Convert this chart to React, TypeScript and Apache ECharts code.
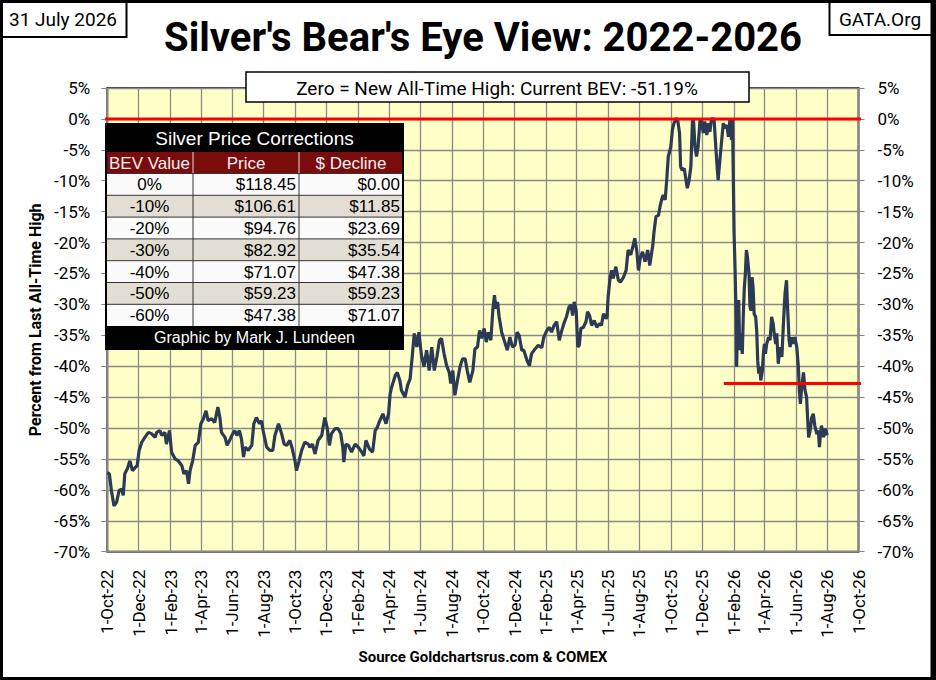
import { useEffect, useRef } from "react";
import * as echarts from "echarts";

const START = Date.UTC(2022, 9, 1);
const DAY = 86400000;

// days after 1-Oct-22 of each reading, and the Bear's Eye View value (%)
const days = [
  0, 4, 8, 13, 18, 23, 28, 31, 34, 39, 44, 49, 54, 58, 62, 67, 73, 80, 86, 93,
  96, 102, 106, 112, 115, 121, 125, 132, 138, 145, 149, 154, 158, 161, 166, 171, 177, 182, 187, 192,
  196, 203, 209, 215, 219, 222, 229, 233, 239, 244, 248, 252, 257, 261, 265, 268, 274, 281, 285, 290,
  296, 300, 303, 310, 316, 322, 326, 333, 339, 344, 349, 355, 359, 365, 368, 373, 378, 384, 391, 394,
  399, 404, 410, 417, 423, 428, 432, 436, 443, 449, 454, 458, 460, 464, 469, 475, 482, 488, 495, 499,
  503, 510, 516, 521, 525, 530, 536, 542, 547, 550, 553, 556, 560, 564, 569, 572, 579, 584, 589, 593,
  597, 602, 606, 611, 616, 621, 626, 631, 636, 641, 646, 650, 655, 660, 665, 668, 672, 676, 681, 686,
  691, 696, 700, 705, 711, 715, 720, 724, 728, 733, 737, 741, 746, 750, 753, 756, 759, 762, 767, 773,
  778, 783, 788, 793, 797, 801, 806, 810, 816, 821, 825, 832, 838, 845, 849, 855, 860, 864, 869, 874,
  879, 884, 888, 893, 898, 902, 905, 908, 912, 915, 918, 921, 926, 931, 934, 938, 942, 947, 952, 957,
  961, 965, 970, 972, 974, 978, 981, 984, 989, 994, 998, 1004, 1009, 1013, 1018, 1022, 1026, 1030, 1033, 1037,
  1041, 1046, 1051, 1055, 1061, 1063, 1067, 1072, 1075, 1078, 1081, 1085, 1088, 1091, 1096, 1099, 1102, 1106, 1109, 1113,
  1115, 1118, 1122, 1125, 1128, 1131, 1135, 1138, 1140, 1143, 1146, 1149, 1153, 1156, 1159, 1162, 1166, 1169, 1172, 1175,
  1180, 1183, 1186, 1188, 1192, 1195, 1198, 1201, 1205, 1208, 1211, 1214, 1216, 1217, 1219, 1221, 1223, 1224, 1226, 1228,
  1230, 1232, 1235, 1237, 1239, 1241, 1243, 1245, 1248, 1250, 1252, 1254, 1256, 1258, 1261, 1263, 1265, 1267, 1269, 1271,
  1274, 1276, 1278, 1280, 1282, 1286, 1289, 1292, 1295, 1297, 1300, 1302, 1305, 1308, 1312, 1315, 1318, 1321, 1323, 1326,
  1328, 1331, 1334, 1337, 1341, 1344, 1346, 1348, 1350, 1354, 1357, 1360, 1362, 1364, 1367, 1370, 1373, 1376, 1380, 1383,
  1385, 1387, 1389, 1393, 1396, 1398, 1400,
];
const bev = [
  -57.2, -57.4, -60.1, -62.6, -62.0, -60.1, -59.9, -60.9, -57.4, -56.6, -55.3, -56.9, -56.4, -56.1, -53.6, -52.3, -51.5, -50.7, -50.9, -51.5,
  -50.7, -50.4, -51.2, -50.7, -52.6, -50.4, -53.9, -55.0, -55.3, -56.1, -57.4, -56.9, -59.0, -56.9, -55.3, -52.8, -52.3, -49.3, -48.5, -47.2,
  -48.8, -48.5, -49.1, -46.6, -48.3, -50.7, -51.5, -52.8, -51.8, -50.9, -50.4, -51.2, -50.4, -51.8, -54.7, -53.1, -53.6, -52.8, -49.3, -48.3,
  -49.3, -48.8, -50.4, -53.1, -53.6, -53.6, -51.2, -49.3, -50.9, -52.6, -52.8, -52.0, -53.1, -55.3, -56.9, -55.3, -53.6, -52.3, -52.6, -53.1,
  -52.6, -54.2, -52.0, -51.2, -48.3, -50.1, -52.8, -50.9, -50.1, -50.1, -50.9, -53.1, -55.5, -52.6, -52.8, -53.9, -52.6, -53.1, -53.9, -54.5,
  -52.0, -53.4, -53.9, -50.4, -49.9, -48.8, -47.7, -49.3, -47.7, -44.5, -43.4, -42.6, -41.5, -41.0, -42.3, -43.9, -45.0, -43.1, -42.0, -38.5,
  -34.7, -36.9, -34.5, -38.2, -40.1, -37.4, -40.7, -36.9, -40.7, -38.5, -35.8, -35.5, -38.0, -39.9, -41.0, -42.8, -40.7, -44.7, -42.3, -40.1,
  -38.8, -38.8, -40.7, -42.6, -40.7, -37.2, -36.9, -34.2, -35.5, -33.9, -36.1, -34.5, -35.8, -30.7, -28.5, -30.7, -29.6, -32.0, -34.5, -36.1,
  -37.4, -35.3, -36.9, -36.6, -34.5, -35.0, -37.4, -37.4, -39.0, -39.9, -38.0, -37.2, -36.6, -37.0, -35.3, -34.2, -33.7, -34.5, -33.4, -32.8,
  -35.8, -34.2, -33.1, -32.0, -30.4, -30.1, -31.8, -29.6, -31.0, -36.9, -36.6, -33.9, -33.7, -32.8, -31.2, -31.8, -33.4, -32.6, -33.7, -33.1,
  -33.4, -31.5, -32.3, -32.0, -28.8, -25.6, -24.5, -25.8, -23.9, -26.1, -26.4, -25.6, -24.5, -21.2, -22.0, -20.7, -19.3, -21.5, -24.5, -22.3,
  -21.5, -23.1, -21.2, -23.7, -20.4, -18.5, -15.8, -15.6, -14.2, -13.1, -12.3, -13.1, -9.9, -6.1, -4.5, -1.8, -0.7, 0, 0, -2.3,
  -7.7, -8.3, -8.0, -9.6, -11.2, -10.2, -7.7, -0.4, 0, -4.5, -6.1, -4.5, 0, -0.4, -2.3, -0.4, -2.6, -0.7, -2.1, 0,
  0, -3.9, -7.7, -9.9, -6.1, -3.4, -0.7, -1.5, -1.0, -2.9, 0, -3.4, 0, -6.6, -18.5, -24.5, -32.0, -40.1, -32.0, -29.3,
  -37.4, -34.7, -38.0, -31.5, -27.2, -25.0, -21.2, -22.3, -25.0, -30.4, -31.0, -25.6, -27.2, -31.5, -32.0, -34.2, -39.1, -41.2, -40.1, -42.3,
  -40.7, -38.0, -36.4, -38.0, -36.6, -35.3, -35.8, -32.0, -33.1, -34.7, -36.4, -34.7, -39.6, -36.9, -38.5, -33.1, -28.3, -26.1, -30.4, -35.8,
  -36.9, -35.3, -36.4, -35.3, -36.9, -40.1, -43.9, -46.1, -43.9, -41.0, -43.9, -45.0, -48.3, -51.5, -50.4, -48.3, -47.7, -49.6, -51.0, -50.4,
  -53.1, -51.0, -49.6, -51.5, -50.1, -50.4, -51.19,
];

// horizontal red reference lines: [start day, end day, level]
const zeroLine = [-21, 1479, 0];
const supportLine = [1199, 1479, -42.8];

const tickLabels = [
  "1-Oct-22", "1-Dec-22", "1-Feb-23", "1-Apr-23", "1-Jun-23", "1-Aug-23", "1-Oct-23", "1-Dec-23",
  "1-Feb-24", "1-Apr-24", "1-Jun-24", "1-Aug-24", "1-Oct-24", "1-Dec-24", "1-Feb-25", "1-Apr-25",
  "1-Jun-25", "1-Aug-25", "1-Oct-25", "1-Dec-25", "1-Feb-26", "1-Apr-26", "1-Jun-26", "1-Aug-26", "1-Oct-26",
];

// table: Silver Price Corrections
const tableHead = ["BEV Value", "Price", "$ Decline"];
const bevLevels = ["0%", "-10%", "-20%", "-30%", "-40%", "-50%", "-60%"];
const prices = ["$118.45", "$106.61", "$94.76", "$82.92", "$71.07", "$59.23", "$47.38"];
const declines = ["$0.00", "$11.85", "$23.69", "$35.54", "$47.38", "$59.23", "$71.07"];

const FONT = "Roboto, 'Liberation Sans', sans-serif";
const TFONT = "'Liberation Sans', Arial, sans-serif";

function tickDay(i: number) {
  return Math.round((Date.UTC(2022, 9 + 2 * i, 1) - START) / DAY);
}

function buildTable() {
  const x0 = 106;
  const w = 297;
  const colX = [106, 193, 299, 403];
  const rowH = 21.8;
  const fills: any[] = [];
  const lines: any[] = [];
  const texts: any[] = [];
  const txt = (x: number, y: number, text: string, size: number, fill: string, align: string) =>
    texts.push({
      type: "text", x, y, z: 22,
      style: { text, font: `${size}px ${TFONT}`, fill, align, verticalAlign: "middle" },
    });
  // title row
  fills.push({ type: "rect", z: 20, shape: { x: x0, y: 124, width: w, height: 28 }, style: { fill: "#000" } });
  txt(254.5, 138.5, "Silver Price Corrections", 19, "#fff", "center");
  // header row
  fills.push({ type: "rect", z: 20, shape: { x: x0, y: 152, width: w, height: 21.5 }, style: { fill: "#7a0c0c" } });
  tableHead.forEach((h, i) => {
    txt((colX[i] + colX[i + 1]) / 2, 163, h, 17, "#f4f0f0", "center");
    if (i > 0)
      lines.push({ type: "line", z: 21, shape: { x1: colX[i], y1: 152, x2: colX[i], y2: 173.5 }, style: { stroke: "#e8d8d8", lineWidth: 1 } });
  });
  bevLevels.forEach((lv, r) => {
    const y = 173.5 + r * rowH;
    fills.push({ type: "rect", z: 20, shape: { x: x0, y, width: w, height: rowH }, style: { fill: r % 2 ? "#e2ded3" : "#fbfbfb" } });
    lines.push({ type: "line", z: 21, shape: { x1: x0, y1: y, x2: x0 + w, y2: y }, style: { stroke: "#333", lineWidth: 1 } });
    const cy = y + rowH / 2 + 0.5;
    txt(149.5, cy, lv, 17, "#000", "center");
    txt(296, cy, prices[r], 17, "#000", "right");
    txt(400, cy, declines[r], 17, "#000", "right");
  });
  [193, 299].forEach((vx) =>
    lines.push({ type: "line", z: 21, shape: { x1: vx, y1: 173.5, x2: vx, y2: 173.5 + 7 * rowH }, style: { stroke: "#333", lineWidth: 1 } })
  );
  const fy = 173.5 + 7 * rowH;
  fills.push({ type: "rect", z: 20, shape: { x: x0, y: fy, width: w, height: 349 - fy }, style: { fill: "#000" } });
  txt(254.5, (fy + 349) / 2, "Graphic by Mark J. Lundeen", 16, "#fff", "center");
  lines.push({ type: "rect", z: 21, shape: { x: x0, y: 124, width: w, height: 225 }, style: { fill: "none", stroke: "#000", lineWidth: 2 } });
  return [...fills, ...lines, ...texts];
}

export default function App() {
  const ref = useRef<HTMLDivElement>(null);

  useEffect(() => {
    const el = ref.current;
    if (!el) return;
    const chart = echarts.init(el, undefined, { renderer: "svg" });
    const ticks = tickLabels.map((_, i) => tickDay(i));
    const labelOf = (v: number) => {
      const i = ticks.indexOf(Math.round(v));
      return i >= 0 ? tickLabels[i] : "";
    };
    const yAxisBase = {
      type: "value",
      min: -70,
      max: 5,
      interval: 5,
      axisLine: { show: false },
      axisTick: { show: true, length: 6, lineStyle: { color: "#888" } },
    };
    const yLabel = { color: "#000", fontSize: 17, fontFamily: FONT, formatter: "{value}%" };
    const refLine = (pts: number[]) => ({
      type: "line",
      data: [[pts[0], pts[2]], [pts[1], pts[2]]],
      showSymbol: false,
      clip: false,
      silent: true,
      lineStyle: { color: "#ff0000", width: 3 },
      z: 4,
    });
    chart.setOption({
      animation: false,
      backgroundColor: "#fff",
      grid: {
        left: 107.3, right: 77.5, top: 88, bottom: 128.3,
        show: true, backgroundColor: "#ffffc8", borderColor: "#3c3c3c", borderWidth: 2,
      },
      xAxis: {
        type: "value",
        min: 0,
        max: ticks[ticks.length - 1],
        axisLine: { show: false },
        axisTick: { show: false, customValues: ticks },
        axisLabel: {
          customValues: ticks, rotate: 90, margin: 18, color: "#000", fontSize: 17, fontFamily: FONT,
          formatter: (v: number) => labelOf(v),
        },
        splitLine: { show: true, lineStyle: { color: "#8a8a8a", width: 1.3 } },
        name: "Source Goldchartsrus.com & COMEX",
        nameLocation: "middle",
        nameGap: 98,
        nameTextStyle: { color: "#000", fontSize: 15, fontWeight: "bold", fontFamily: FONT },
      },
      yAxis: [
        {
          ...yAxisBase,
          position: "left",
          axisLabel: { ...yLabel, margin: 17 },
          splitLine: { show: true, lineStyle: { color: "#8a8a8a", width: 1.3 } },
          name: "Percent from Last All-Time High",
          nameLocation: "middle",
          nameGap: 63,
          nameTextStyle: { color: "#000", fontSize: 16, fontWeight: "bold", fontFamily: FONT },
        },
        { ...yAxisBase, position: "right", axisLabel: { ...yLabel, margin: 19 }, splitLine: { show: false } },
      ],
      series: [
        {
          type: "line",
          data: days.map((d, i) => [d, bev[i]]),
          showSymbol: false,
          lineStyle: { color: "#2c3a55", width: 3.2 },
          z: 3,
        },
        refLine(zeroLine),
        refLine(supportLine),
      ],
      graphic: [
        { type: "rect", z: 30, shape: { x: 0, y: 0, width: 933.5, height: 680 }, style: { fill: "none", stroke: "#000", lineWidth: 6 } },
        { type: "rect", z: 10, shape: { x: 1, y: 1, width: 125.5, height: 36 }, style: { fill: "#fff", stroke: "#000", lineWidth: 2 } },
        {
          type: "text", z: 11, x: 63, y: 19.5,
          style: { text: "31 July 2026", font: `19px ${FONT}`, fill: "#000", align: "center", verticalAlign: "middle" },
        },
        { type: "rect", z: 10, shape: { x: 829.5, y: 1, width: 104, height: 34 }, style: { fill: "#fff", stroke: "#000", lineWidth: 2 } },
        {
          type: "text", z: 11, x: 880, y: 19.5,
          style: { text: "GATA.Org", font: `19px ${FONT}`, fill: "#000", align: "center", verticalAlign: "middle" },
        },
        {
          type: "text", z: 11, x: 483, y: 37,
          style: { text: "Silver's Bear's Eye View: 2022-2026", font: `bold 40px ${FONT}`, fill: "#000", align: "center", verticalAlign: "middle" },
        },
        { type: "rect", z: 10, shape: { x: 246, y: 72, width: 503, height: 30 }, style: { fill: "#fff", stroke: "#000", lineWidth: 1.5 } },
        {
          type: "text", z: 11, x: 497, y: 88,
          style: { text: "Zero = New All-Time High: Current BEV: -51.19%", font: `19px ${FONT}`, fill: "#000", align: "center", verticalAlign: "middle" },
        },
        ...buildTable(),
      ],
    });
    return () => {
      chart.dispose();
    };
  }, []);

  return <div ref={ref} style={{ position: "fixed", left: 0, top: 0, width: 936, height: 680 }} />;
}
